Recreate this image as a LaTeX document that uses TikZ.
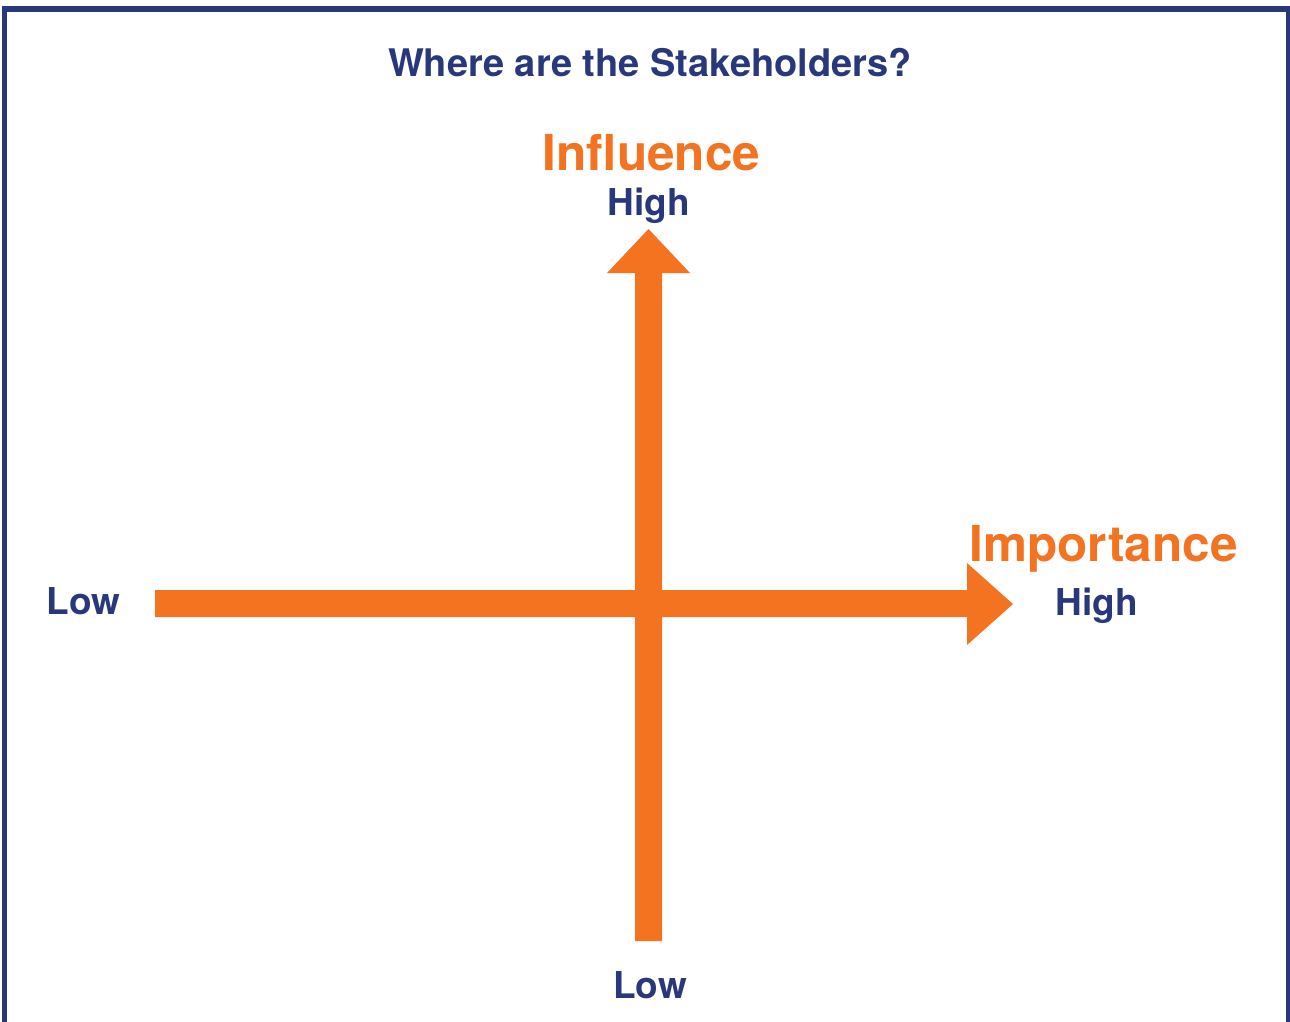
\documentclass[tikz,border=0pt]{standalone}
\usepackage{fontspec}
\setmainfont{TeX Gyre Heros}
\definecolor{navy}{HTML}{29387A}
\definecolor{orng}{HTML}{F37321}
\begin{document}
\begin{tikzpicture}[x=1pt,y=-1pt,
  lbl/.style={inner sep=0pt,anchor=base,text=navy,font=\bfseries\fontsize{37}{42}\selectfont},
  axis/.style={inner sep=0pt,anchor=base,text=orng,font=\bfseries\fontsize{49.5}{54}\selectfont},
  ttl/.style={inner sep=0pt,anchor=base,text=navy,font=\bfseries\fontsize{38}{42}\selectfont},
  arrowshape/.style={fill=orng,draw=none}]
\useasboundingbox (0,0) rectangle (1290,1021);
% frame
\draw[navy,line width=5.5pt] (4.5,1030) -- (4.5,9) -- (1288.5,9) -- (1288.5,1030);
% title
\node[ttl] (title) at (650,76) {Where are the Stakeholders?};
% labels
\node[axis] (influence) at (651.5,170) {Influence};
\node[lbl] (vhigh) at (649,215) {High};
\node[lbl] (vlow) at (650,998) {Low};
\node[axis] (importance) at (1103.5,561) {Importance};
\node[lbl] (hhigh) at (1096.5,615) {High};
\node[lbl] (hlow) at (83.5,614) {Low};
% vertical arrow
\coordinate (vtip) at (648.5,229);
\coordinate (vbase) at (648.5,941);
\fill[arrowshape] (635,941) -- (635,273) -- (607,273) -- (vtip) -- (690,273) -- (662,273) -- (662,941) -- cycle;
% horizontal arrow
\coordinate (htip) at (1013,604);
\coordinate (hbase) at (155,603.5);
\fill[arrowshape] (155,590) -- (967,590) -- (967,563) -- (htip) -- (967,645) -- (967,617) -- (155,617) -- cycle;
\end{tikzpicture}
\end{document}
